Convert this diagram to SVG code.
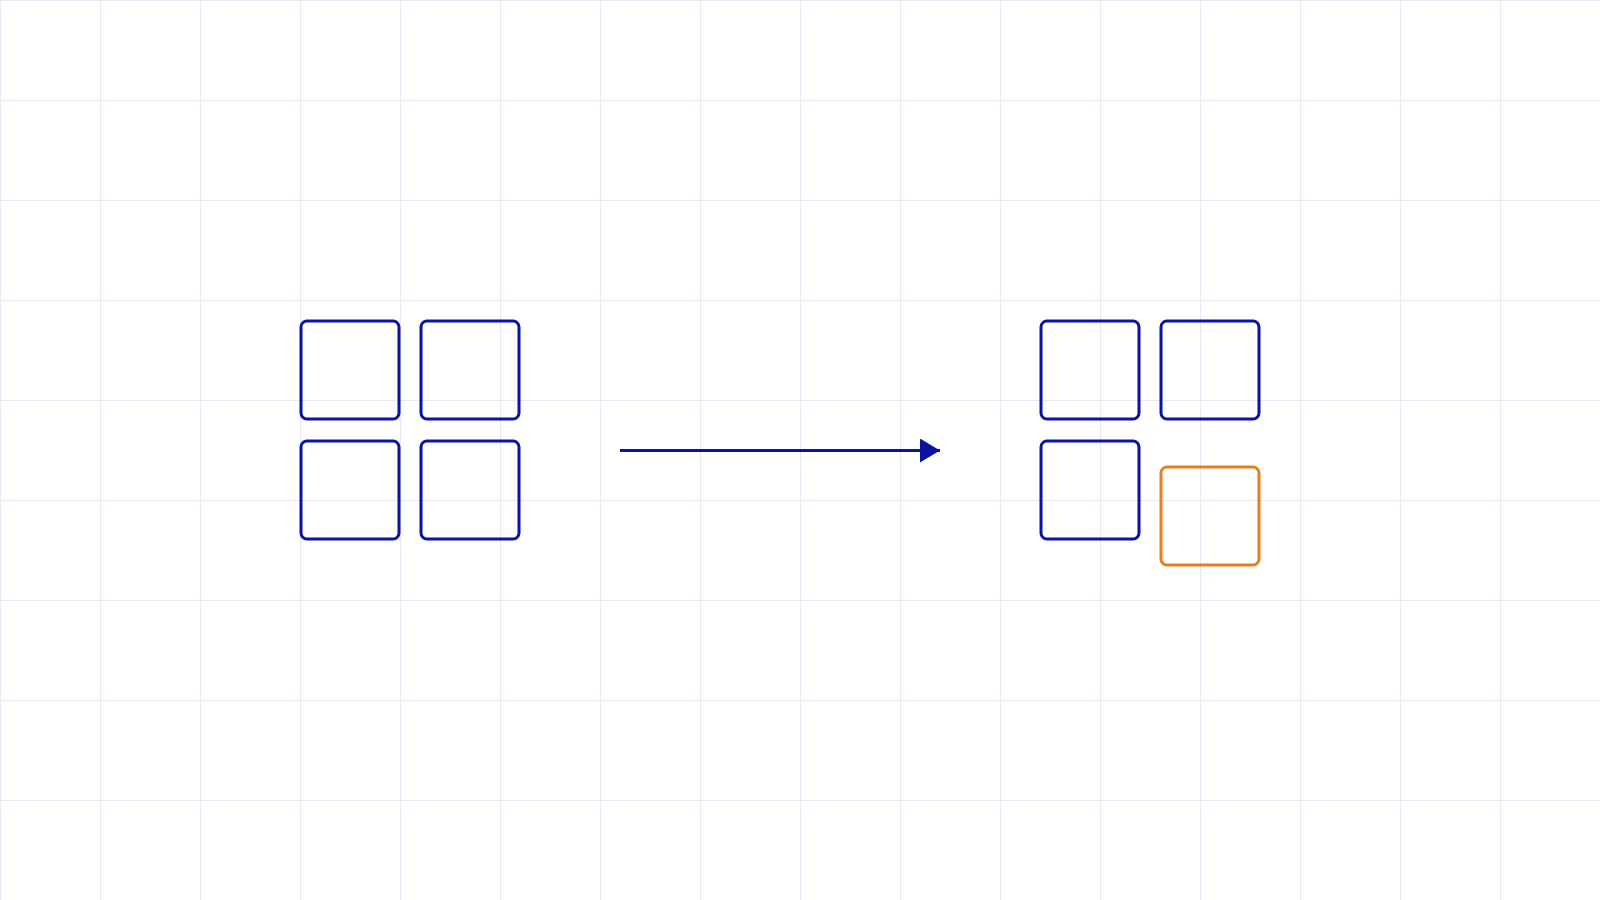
<svg xmlns="http://www.w3.org/2000/svg" width="1600" height="900" viewBox="0 0 1600 900">
<defs>
<style>
.grid{stroke:#e8e8f6;stroke-width:1;fill:none}
.box{fill:none;stroke:#0a149e;stroke-width:3}
.box.hl{stroke:#e0821e}
.conn{stroke:#0a149e;stroke-width:3;fill:none}
</style>
<marker id="arrow" viewBox="0 0 20 24" refX="20" refY="12" markerWidth="20" markerHeight="24" markerUnits="userSpaceOnUse" orient="auto">
<path d="M0,0 L20,12 L0,24 Z" fill="#0a149e"/>
</marker>
</defs>
<rect width="1600" height="900" fill="#ffffff"/>
<g id="grid" class="grid">
<path d="M0.5,0V900M100.5,0V900M200.5,0V900M300.5,0V900M400.5,0V900M500.5,0V900M600.5,0V900M700.5,0V900M800.5,0V900M900.5,0V900M1000.5,0V900M1100.5,0V900M1200.5,0V900M1300.5,0V900M1400.5,0V900M1500.5,0V900M0,0.5H1600M0,100.5H1600M0,200.5H1600M0,300.5H1600M0,400.5H1600M0,500.5H1600M0,600.5H1600M0,700.5H1600M0,800.5H1600"/>
</g>
<g id="left-1"><rect class="box" x="301" y="321" width="98" height="98" rx="6"/></g>
<g id="left-2"><rect class="box" x="421" y="321" width="98" height="98" rx="6"/></g>
<g id="left-3"><rect class="box" x="301" y="441" width="98" height="98" rx="6"/></g>
<g id="left-4"><rect class="box" x="421" y="441" width="98" height="98" rx="6"/></g>
<g id="right-1"><rect class="box" x="1041" y="321" width="98" height="98" rx="6"/></g>
<g id="right-2"><rect class="box" x="1161" y="321" width="98" height="98" rx="6"/></g>
<g id="right-3"><rect class="box" x="1041" y="441" width="98" height="98" rx="6"/></g>
<g id="right-4"><rect class="box hl" x="1161" y="467" width="98" height="98" rx="6"/></g>
<g id="connectors">
<line class="conn" x1="620" y1="450.5" x2="940" y2="450.5" marker-end="url(#arrow)"/>
</g>
</svg>
